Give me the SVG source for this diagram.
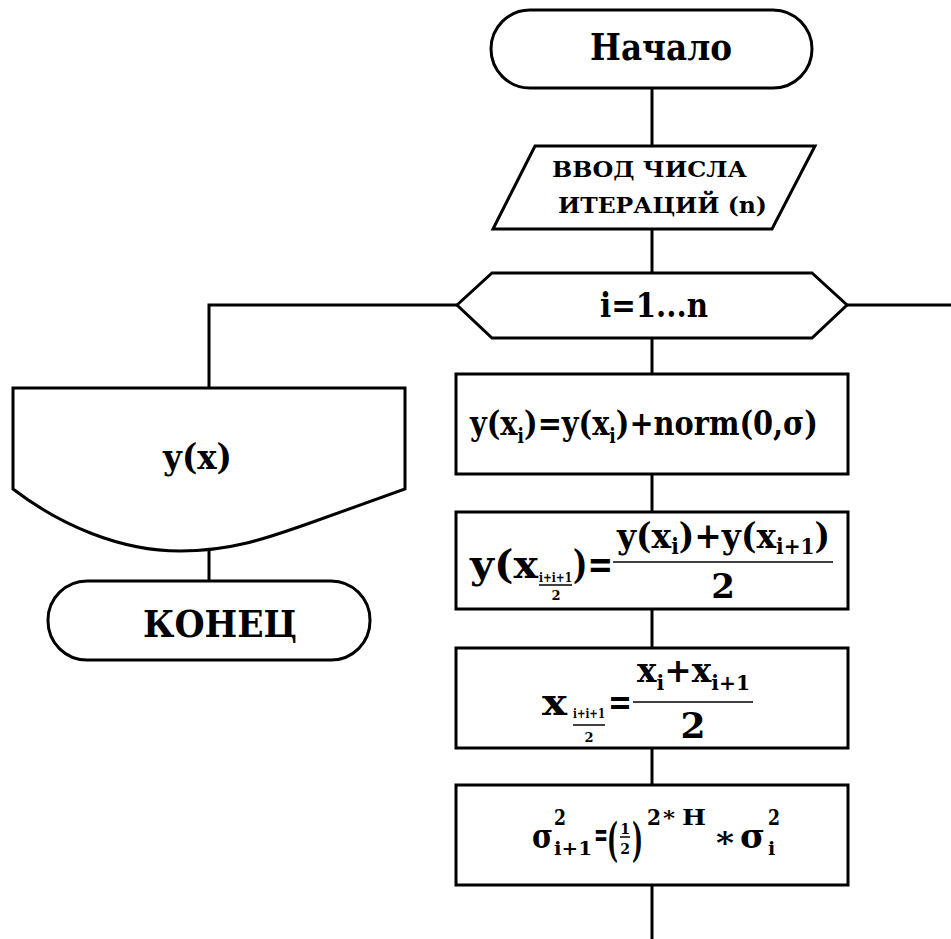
<svg xmlns="http://www.w3.org/2000/svg" width="951" height="939" viewBox="0 0 951 939">
  <style>
    .shape { fill: #ffffff; stroke: #000000; stroke-width: 3; stroke-linejoin: miter; }
    .wire { fill: none; stroke: #000000; stroke-width: 3; }
    .bar { stroke: #000000; stroke-width: 1.5; }
    text { font-family: "DejaVu Serif", "Liberation Serif", serif; font-weight: bold; fill: #000000; }
    .mid { text-anchor: middle; }
  </style>

  <!-- connectors -->
  <g id="connectors">
    <path class="wire" d="M652,88 V146"/>
    <path class="wire" d="M652,229 V273"/>
    <path class="wire" d="M652,338 V374"/>
    <path class="wire" d="M652,474 V512"/>
    <path class="wire" d="M652,609 V648"/>
    <path class="wire" d="M652,748 V785"/>
    <path class="wire" d="M652,885 V939"/>
    <path class="wire" d="M847,305 H951"/>
    <path class="wire" d="M457,305 H209 V388"/>
    <path class="wire" d="M209,550 V581"/>
  </g>

  <!-- start terminator -->
  <g id="start">
    <rect class="shape" x="491" y="10" width="321" height="78" rx="39" ry="39"/>
    <text x="590" y="60" font-size="38" textLength="142" lengthAdjust="spacingAndGlyphs">Начало</text>
  </g>

  <!-- input of iteration count -->
  <g id="input">
    <polygon class="shape" points="535,146 815,146 772,229 493,229"/>
    <text x="552" y="177" font-size="22" textLength="195" lengthAdjust="spacingAndGlyphs">ВВОД ЧИСЛА</text>
    <text x="558" y="213" font-size="22" textLength="209" lengthAdjust="spacingAndGlyphs">ИТЕРАЦИЙ (n)</text>
  </g>

  <!-- loop header -->
  <g id="loop">
    <polygon class="shape" points="457,305 492,273 812,273 847,305 812,338 492,338"/>
    <text x="600" y="317" font-size="34" textLength="108" lengthAdjust="spacingAndGlyphs">i=1...n</text>
  </g>

  <!-- step 1: add noise -->
  <g id="noise">
    <rect class="shape" x="456" y="374" width="392" height="100"/>
    <text x="470" y="435" font-size="34" textLength="348" lengthAdjust="spacingAndGlyphs">y(x<tspan font-size="20" dy="8">i</tspan><tspan dy="-8">)=y(x</tspan><tspan font-size="20" dy="8">i</tspan><tspan dy="-8">)+norm(0,σ)</tspan></text>
  </g>

  <!-- step 2: midpoint value -->
  <g id="midvalue">
    <rect class="shape" x="456" y="512" width="392" height="97"/>
    <text x="470" y="578" font-size="40" textLength="68" lengthAdjust="spacingAndGlyphs">y(x</text>
    <text x="539" y="582" font-size="13" textLength="33" lengthAdjust="spacingAndGlyphs">i+i+1</text>
    <line class="bar" x1="539" y1="585" x2="572" y2="585"/>
    <text class="mid" x="556" y="600" font-size="13">2</text>
    <text x="573" y="578" font-size="40" textLength="40" lengthAdjust="spacingAndGlyphs">)=</text>
    <line class="bar" x1="613" y1="562" x2="833" y2="562"/>
    <text x="617" y="548" font-size="36" textLength="213" lengthAdjust="spacingAndGlyphs">y(x<tspan font-size="22" dy="6">i</tspan><tspan dy="-6">)+y(x</tspan><tspan font-size="22" dy="6">i+1</tspan><tspan dy="-6">)</tspan></text>
    <text class="mid" x="723" y="598" font-size="34">2</text>
  </g>

  <!-- step 3: midpoint abscissa -->
  <g id="midpoint">
    <rect class="shape" x="456" y="648" width="392" height="100"/>
    <text x="542" y="715" font-size="38" textLength="25" lengthAdjust="spacingAndGlyphs">x</text>
    <text x="573" y="718" font-size="13" textLength="32" lengthAdjust="spacingAndGlyphs">i+i+1</text>
    <line class="bar" x1="573" y1="725" x2="605" y2="725"/>
    <text class="mid" x="589" y="742" font-size="13">2</text>
    <text x="608" y="714" font-size="36" textLength="24" lengthAdjust="spacingAndGlyphs">=</text>
    <line class="bar" x1="633" y1="702" x2="753" y2="702"/>
    <text x="637" y="682" font-size="34" textLength="113" lengthAdjust="spacingAndGlyphs">x<tspan font-size="21" dy="8">i</tspan><tspan dy="-8">+x</tspan><tspan font-size="21" dy="8">i+1</tspan></text>
    <text class="mid" x="693" y="738" font-size="36">2</text>
  </g>

  <!-- step 4: variance update -->
  <g id="variance">
    <rect class="shape" x="456" y="785" width="392" height="100"/>
    <text x="532" y="848" font-size="34" textLength="21" lengthAdjust="spacingAndGlyphs">σ</text>
    <text x="554" y="825" font-size="22" textLength="12" lengthAdjust="spacingAndGlyphs">2</text>
    <text x="554" y="855" font-size="19" textLength="38" lengthAdjust="spacingAndGlyphs">i+1</text>
    <text x="594" y="846" font-size="34" textLength="14" lengthAdjust="spacingAndGlyphs">=</text>
    <text x="607" y="856" font-size="46" textLength="11" lengthAdjust="spacingAndGlyphs">(</text>
    <text class="mid" x="625" y="834" font-size="14">1</text>
    <line class="bar" x1="620" y1="837" x2="630" y2="837"/>
    <text class="mid" x="625" y="854" font-size="14">2</text>
    <text x="632" y="856" font-size="46" textLength="11" lengthAdjust="spacingAndGlyphs">)</text>
    <text x="647" y="825" font-size="23" textLength="14" lengthAdjust="spacingAndGlyphs">2</text>
    <text x="663" y="825" font-size="21" textLength="12" lengthAdjust="spacingAndGlyphs">*</text>
    <text x="682" y="825" font-size="23" textLength="24" lengthAdjust="spacingAndGlyphs">H</text>
    <text x="716" y="853" font-size="30" textLength="18" lengthAdjust="spacingAndGlyphs">*</text>
    <text x="740" y="848" font-size="34" textLength="25" lengthAdjust="spacingAndGlyphs">σ</text>
    <text x="768" y="825" font-size="22" textLength="12" lengthAdjust="spacingAndGlyphs">2</text>
    <text x="768" y="855" font-size="19">i</text>
  </g>

  <!-- output of result -->
  <g id="output">
    <path class="shape" d="M13,388 H405 V489 L310,523 C265,539 230,551 180,551 C120,551 60,525 13,489 Z"/>
    <text x="163" y="469" font-size="36" textLength="69" lengthAdjust="spacingAndGlyphs">y(x)</text>
  </g>

  <!-- end terminator -->
  <g id="end">
    <rect class="shape" x="48" y="581" width="322" height="79" rx="39" ry="39"/>
    <text x="143" y="637" font-size="38" textLength="154" lengthAdjust="spacingAndGlyphs">КОНЕЦ</text>
  </g>
</svg>
